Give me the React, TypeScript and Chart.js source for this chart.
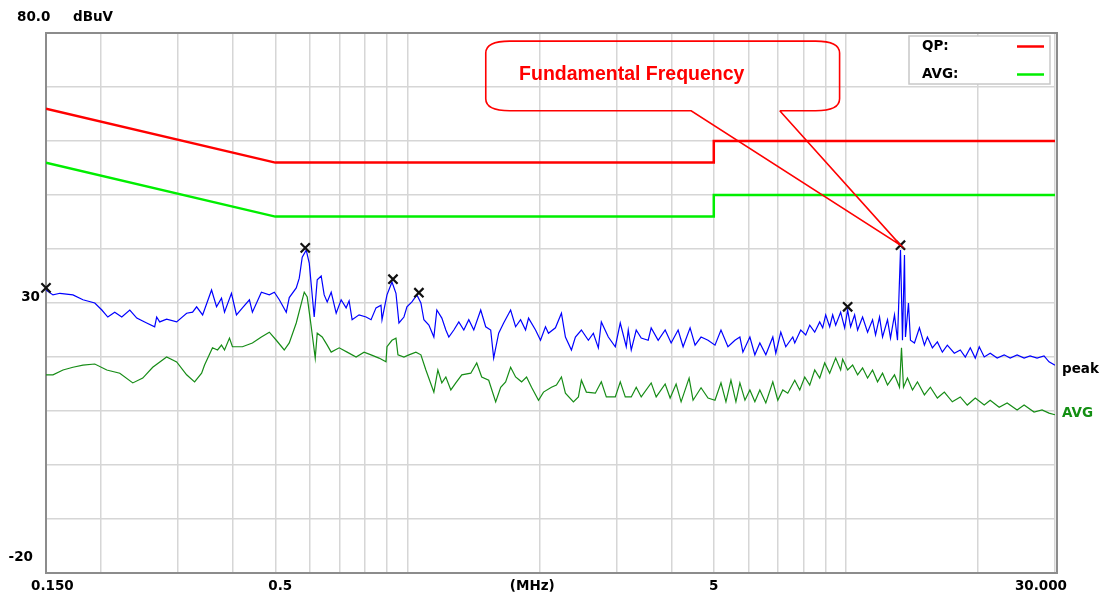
import React, { useEffect, useRef } from "react";
import { Chart, registerables } from "chart.js";

Chart.register(...registerables);

// ---- Data (MHz / dBuV) ----
const peakFreq = [
  0.15, 0.1556, 0.1614, 0.1728, 0.1821, 0.1938, 0.2011, 0.2075, 0.2152, 0.2233,
  0.2329, 0.2416, 0.2545, 0.2654, 0.2682, 0.2725, 0.2826, 0.2979, 0.3139, 0.3239,
  0.3308, 0.3414, 0.3578, 0.3673, 0.377, 0.383, 0.3972, 0.4078, 0.4208, 0.4365,
  0.4434, 0.4648, 0.4846, 0.4975, 0.5107, 0.5297, 0.5381, 0.5582, 0.5671, 0.576,
  0.5882, 0.5976, 0.6134, 0.6232, 0.6363, 0.6464, 0.6567, 0.6706, 0.6884, 0.7066,
  0.7253, 0.7368, 0.7485, 0.7764, 0.8054, 0.8268, 0.8486, 0.8711, 0.8757, 0.8989,
  0.9228, 0.9423, 0.9572, 0.9826, 0.9982, 1.0247, 1.0518, 1.0741, 1.0911, 1.1201,
  1.1498, 1.168, 1.199, 1.2244, 1.2438, 1.2769, 1.3107, 1.3455, 1.3812, 1.4179,
  1.4705, 1.5095, 1.5496, 1.5741, 1.6159, 1.6587, 1.7205, 1.7661, 1.8129, 1.8609,
  1.8904, 1.961, 2.0129, 2.0662, 2.0989, 2.1771, 2.2467, 2.2942, 2.3676, 2.4177,
  2.4949, 2.5879, 2.6565, 2.727, 2.7702, 2.874, 2.9811, 3.06, 3.1578, 3.1911,
  3.2417, 3.3276, 3.4158, 3.5433, 3.5994, 3.7338, 3.8733, 3.9969, 4.146, 4.2561,
  4.4151, 4.532, 4.6766, 4.851, 5.0319, 5.1926, 5.3862, 5.5872, 5.735, 5.826,
  6.0434, 6.2037, 6.3683, 6.5715, 6.8168, 6.9248, 7.1085, 7.2972, 7.5701, 7.6497,
  7.8941, 8.1038, 8.2752, 8.4947, 8.72, 8.8581, 8.9985, 9.1892, 9.3348, 9.4827,
  9.7341, 9.9401, 10.098, 10.258, 10.475, 10.641, 10.922, 11.212, 11.509, 11.692,
  11.939, 12.129, 12.45, 12.647, 12.915, 13.12, 13.328, 13.468, 13.539, 13.61,
  13.681, 13.898, 14.044, 14.342, 14.721, 15.111, 15.351, 15.758, 16.176, 16.605,
  17.045, 17.681, 18.246, 18.73, 19.227, 19.737, 20.154, 20.688, 21.348, 22.145,
  22.971, 23.705, 24.588, 25.506, 26.321, 27.302, 28.32, 29.072, 30,
];
const peakLevel = [
  32.4, 31.5, 31.8, 31.5, 30.6, 30.0, 28.7, 27.4, 28.3, 27.4,
  28.7, 27.2, 26.3, 25.6, 27.4, 26.5, 27.0, 26.5, 28.1, 28.3,
  29.3, 27.8, 32.4, 29.3, 30.9, 28.3, 31.8, 27.8, 29.1, 30.6,
  28.3, 32.0, 31.5, 32.0, 30.6, 28.3, 31.0, 32.8, 34.6, 38.5,
  39.8, 37.4, 27.4, 34.3, 35.0, 31.5, 30.2, 32.0, 28.1, 30.6,
  29.1, 30.4, 26.9, 27.8, 27.4, 26.9, 29.1, 29.6, 26.9, 31.5,
  33.9, 31.8, 26.3, 27.4, 29.3, 30.2, 31.5, 30.0, 26.9, 25.9,
  23.7, 28.7, 27.2, 25.0, 23.7, 25.0, 26.5, 25.0, 26.9, 25.0,
  28.7, 25.6, 25.0, 19.8, 24.4, 26.3, 28.7, 25.6, 26.9, 25.0,
  27.2, 25.0, 23.1, 25.6, 24.4, 25.4, 28.1, 23.7, 21.3, 23.7,
  25.0, 23.1, 24.4, 21.7, 26.5, 23.7, 21.9, 26.3, 21.9, 25.0,
  21.3, 25.0, 23.5, 23.1, 25.4, 23.1, 25.0, 22.6, 25.0, 21.9,
  25.4, 22.2, 23.7, 23.1, 22.2, 25.0, 21.9, 23.1, 23.7, 20.9,
  23.7, 20.4, 22.6, 20.4, 23.7, 20.7, 24.6, 21.9, 23.7, 22.6,
  25.0, 24.1, 25.9, 24.6, 26.5, 25.4, 27.8, 25.6, 27.8, 25.9,
  28.3, 25.4, 28.7, 25.6, 27.8, 25.0, 27.4, 24.6, 26.9, 24.1,
  27.4, 23.7, 26.9, 23.5, 27.8, 23.1, 39.8, 23.1, 31.1, 38.9,
  23.7, 30.0, 23.1, 22.6, 25.4, 22.2, 23.7, 21.7, 22.8, 20.9,
  22.2, 20.7, 21.3, 20.0, 21.7, 19.8, 21.9, 20.0, 20.7, 19.8,
  20.4, 19.8, 20.4, 19.8, 20.2, 19.8, 20.2, 19.1, 18.5,
];

const avgFreq = [
  0.15, 0.1556, 0.164, 0.1728, 0.1821, 0.1938, 0.2064, 0.221, 0.2366, 0.2493,
  0.2627, 0.2826, 0.2979, 0.3139, 0.3273, 0.3396, 0.3449, 0.3596, 0.3692, 0.377,
  0.383, 0.3931, 0.3993, 0.4208, 0.4434, 0.4648, 0.4846, 0.5027, 0.5241, 0.5381,
  0.5582, 0.5821, 0.5913, 0.6039, 0.6167, 0.6232, 0.6397, 0.6567, 0.6706, 0.6993,
  0.7292, 0.7643, 0.797, 0.8268, 0.8621, 0.8942, 0.8989, 0.9228, 0.9423, 0.9522,
  0.9826, 1.0087, 1.0463, 1.0741, 1.1026, 1.1498, 1.1742, 1.199, 1.2244, 1.257,
  1.2903, 1.3315, 1.3958, 1.44, 1.4782, 1.5335, 1.5908, 1.6331, 1.6761, 1.7205,
  1.7661, 1.8224, 1.8708, 1.9203, 1.9919, 2.0447, 2.132, 2.1885, 2.2467, 2.2942,
  2.3925, 2.4563, 2.4949, 2.561, 2.6844, 2.7702, 2.844, 2.9811, 3.06, 3.1415,
  3.2417, 3.3276, 3.4158, 3.5994, 3.695, 3.8733, 3.9759, 4.1028, 4.2117, 4.392,
  4.485, 4.6766, 4.851, 5.0319, 5.1926, 5.33, 5.4714, 5.6165, 5.735, 5.8895,
  6.0434, 6.2037, 6.3683, 6.5715, 6.8168, 6.9978, 7.1837, 7.3739, 7.6497, 7.8525,
  8.0612, 8.2752, 8.4947, 8.72, 8.9514, 9.1892, 9.4827, 9.7341, 9.8367, 10.098,
  10.366, 10.641, 10.922, 11.212, 11.509, 11.815, 12.129, 12.45, 12.915, 13.258,
  13.398, 13.539, 13.825, 14.193, 14.568, 15.111, 15.594, 16.176, 16.779, 17.496,
  18.246, 18.927, 19.737, 20.688, 21.348, 22.377, 23.334, 24.588, 25.506, 26.876,
  28.025, 29.072, 30,
];
const avgLevel = [
  16.7, 16.7, 17.6, 18.1, 18.5, 18.7, 17.6, 17.0, 15.2, 16.1,
  18.1, 20.0, 19.1, 16.7, 15.4, 17.0, 18.5, 21.7, 21.3, 22.2,
  21.3, 23.5, 21.9, 21.9, 22.6, 23.7, 24.6, 23.1, 21.3, 22.6,
  26.3, 32.0, 31.1, 25.6, 19.8, 24.4, 23.7, 22.2, 20.9, 21.7,
  20.9, 20.0, 20.9, 20.4, 19.8, 19.1, 21.9, 23.1, 23.5, 20.4,
  20.0, 20.4, 20.9, 20.4, 17.6, 13.5, 17.6, 15.2, 16.3, 13.9,
  15.2, 16.7, 17.0, 18.9, 16.3, 15.7, 11.7, 14.4, 15.4, 18.1,
  16.3, 15.4, 16.3, 14.4, 12.0, 13.5, 14.4, 14.8, 16.3, 13.3,
  11.7, 12.6, 15.7, 13.5, 13.3, 15.4, 12.6, 12.6, 15.4, 12.6,
  12.6, 14.4, 12.6, 15.2, 12.6, 15.0, 12.4, 15.0, 11.7, 16.1,
  12.0, 14.3, 12.4, 12.0, 15.2, 11.7, 15.7, 11.7, 15.2, 12.0,
  13.9, 11.7, 13.9, 11.5, 15.4, 12.0, 13.9, 13.3, 15.7, 13.9,
  16.3, 14.8, 17.6, 16.1, 18.9, 17.0, 19.8, 17.6, 19.6, 17.6,
  18.5, 16.7, 18.0, 16.1, 17.6, 15.4, 17.0, 14.8, 16.7, 14.4,
  21.7, 14.4, 16.1, 13.9, 15.4, 13.0, 14.4, 12.4, 13.5, 11.7,
  12.6, 11.1, 12.4, 11.1, 12.0, 10.7, 11.5, 10.2, 11.1, 9.8,
  10.2, 9.6, 9.3,
];

const qpLimitFreq = [0.15, 0.5, 5, 5, 30];
const qpLimitLevel = [66, 56, 56, 60, 60];
const avgLimitFreq = [0.15, 0.5, 5, 5, 30];
const avgLimitLevel = [56, 46, 46, 50, 50];

const markerFreq = [0.15, 0.5852, 0.9276, 1.0629, 10.098, 13.328];
const markerLevel = [32.8, 40.2, 34.4, 31.9, 29.3, 40.7];

const gridFreqs = [0.15, 0.2, 0.3, 0.4, 0.5, 0.6, 0.7, 0.8, 0.9, 1, 2, 3, 4, 5, 6, 7, 8, 9, 10, 20, 30];
const yMin = -20;
const yMax = 80;

const calloutText = "Fundamental Frequency";
const calloutBoxFreq = [1.51, 9.68];
const calloutBoxLevel = [78.5, 65.6];
const calloutTailFreq = [4.44, 7.07];
const calloutTextAt = [3.25, 72.3];

const LABEL_FONT = 'bold 13.5px "DejaVu Sans", sans-serif';

const overlayPlugin = {
  id: "overlay",
  beforeDatasetsDraw(chart: any) {
    const { ctx, chartArea: a } = chart;
    ctx.save();
    ctx.strokeStyle = "#8c8c8c";
    ctx.lineWidth = 2;
    ctx.strokeRect(a.left, a.top, a.right - a.left + 2, a.bottom - a.top);
    ctx.restore();
  },
  afterDatasetsDraw(chart: any) {
    const { ctx, chartArea: a, scales } = chart;
    const xs = scales.x;
    const ys = scales.y;
    ctx.save();

    // Legend box
    const lx = a.right - 146;
    const ly = a.top + 3;
    ctx.strokeStyle = "#c8c8c8";
    ctx.lineWidth = 1.5;
    ctx.fillStyle = "#ffffff";
    ctx.fillRect(lx, ly, 141, 48);
    ctx.strokeRect(lx, ly, 141, 48);
    ctx.font = LABEL_FONT;
    ctx.fillStyle = "#000";
    ctx.textBaseline = "middle";
    ctx.textAlign = "left";
    ctx.fillText("QP:", lx + 13, ly + 10);
    ctx.fillText("AVG:", lx + 13, ly + 38);
    ctx.lineWidth = 2.5;
    ctx.strokeStyle = "#ff0000";
    ctx.beginPath();
    ctx.moveTo(lx + 108, ly + 10.5);
    ctx.lineTo(lx + 135, ly + 10.5);
    ctx.stroke();
    ctx.strokeStyle = "#00ee00";
    ctx.beginPath();
    ctx.moveTo(lx + 108, ly + 38.5);
    ctx.lineTo(lx + 135, ly + 38.5);
    ctx.stroke();

    // Callout
    const L = xs.getPixelForValue(calloutBoxFreq[0]);
    const R = xs.getPixelForValue(calloutBoxFreq[1]);
    const T = ys.getPixelForValue(calloutBoxLevel[0]);
    const B = ys.getPixelForValue(calloutBoxLevel[1]);
    const t1 = xs.getPixelForValue(calloutTailFreq[0]);
    const t2 = xs.getPixelForValue(calloutTailFreq[1]);
    const tx = xs.getPixelForValue(markerFreq[5]);
    const ty = ys.getPixelForValue(markerLevel[5]);
    const rx = 24;
    const ry = 12;
    ctx.strokeStyle = "#ff0000";
    ctx.lineWidth = 1.6;
    ctx.beginPath();
    ctx.moveTo(t2, B);
    ctx.lineTo(R - rx, B);
    ctx.quadraticCurveTo(R, B, R, B - ry);
    ctx.lineTo(R, T + ry);
    ctx.quadraticCurveTo(R, T, R - rx, T);
    ctx.lineTo(L + rx, T);
    ctx.quadraticCurveTo(L, T, L, T + ry);
    ctx.lineTo(L, B - ry);
    ctx.quadraticCurveTo(L, B, L + rx, B);
    ctx.lineTo(t1, B);
    ctx.lineTo(tx, ty);
    ctx.lineTo(t2, B);
    ctx.stroke();
    ctx.fillStyle = "#ff0000";
    ctx.font = 'bold 19.5px "Liberation Sans", Arial, sans-serif';
    ctx.textAlign = "center";
    ctx.fillText(calloutText, xs.getPixelForValue(calloutTextAt[0]), ys.getPixelForValue(calloutTextAt[1]));

    // Axis labels
    ctx.font = LABEL_FONT;
    ctx.fillStyle = "#000";
    ctx.textAlign = "left";
    ctx.fillText("80.0", a.left - 29, ys.getPixelForValue(yMax) - 16);
    ctx.fillText("dBuV", a.left + 27, ys.getPixelForValue(yMax) - 16);
    ctx.textAlign = "right";
    ctx.fillText("30", a.left - 6, ys.getPixelForValue(30) - 6);
    ctx.fillText("-20", a.left - 13, ys.getPixelForValue(yMin) - 16);

    const by = a.bottom + 13;
    ctx.textAlign = "left";
    ctx.fillText("0.150", a.left - 15, by);
    ctx.textAlign = "center";
    ctx.fillText("0.5", xs.getPixelForValue(0.5) + 5, by);
    ctx.fillText("(MHz)", xs.getPixelForValue(2) - 7, by);
    ctx.fillText("5", xs.getPixelForValue(5), by);
    ctx.textAlign = "right";
    ctx.fillText("30.000", a.right + 12, by);

    // Trace labels
    ctx.textAlign = "left";
    ctx.fillStyle = "#000";
    ctx.fillText("peak", a.right + 7, ys.getPixelForValue(peakLevel[peakLevel.length - 1]) + 4);
    ctx.fillStyle = "#138f13";
    ctx.fillText("AVG", a.right + 7, ys.getPixelForValue(avgLevel[avgLevel.length - 1]) - 1);

    ctx.restore();
  },
};

function pairs(xs: number[], ys: number[]) {
  return xs.map((x, i) => ({ x, y: ys[i] }));
}

export default function App() {
  const ref = useRef<HTMLCanvasElement | null>(null);
  useEffect(() => {
    if (!ref.current) return;
    const chart = new Chart(ref.current, {
      type: "line",
      data: {
        datasets: [
          {
            label: "markers",
            data: pairs(markerFreq, markerLevel),
            showLine: false,
            pointStyle: "crossRot",
            pointRadius: 6.5,
            pointBorderWidth: 2.2,
            pointBorderColor: "#111",
            borderColor: "#111",
            order: 0,
            clip: false,
          } as any,
          {
            label: "QP",
            data: pairs(qpLimitFreq, qpLimitLevel),
            borderColor: "#ff0000",
            borderWidth: 2.5,
            pointRadius: 0,
            order: 1,
          },
          {
            label: "AVG limit",
            data: pairs(avgLimitFreq, avgLimitLevel),
            borderColor: "#00ee00",
            borderWidth: 2.5,
            pointRadius: 0,
            order: 2,
          },
          {
            label: "peak",
            data: pairs(peakFreq, peakLevel),
            borderColor: "#0000ff",
            borderWidth: 1.2,
            pointRadius: 0,
            order: 3,
          },
          {
            label: "AVG",
            data: pairs(avgFreq, avgLevel),
            borderColor: "#168c16",
            borderWidth: 1.2,
            pointRadius: 0,
            order: 4,
          },
        ],
      },
      options: {
        animation: false,
        responsive: false,
        maintainAspectRatio: false,
        layout: { padding: { left: 46, top: 33, right: 47, bottom: 23 } },
        plugins: { legend: { display: false }, tooltip: { enabled: false } },
        scales: {
          x: {
            type: "logarithmic",
            min: 0.15,
            max: 30,
            afterBuildTicks: (s: any) => {
              s.ticks = gridFreqs.map((v) => ({ value: v }));
            },
            ticks: { display: false },
            grid: { color: "#d6d6d6", lineWidth: 1.5, drawTicks: false },
            border: { display: false },
          },
          y: {
            min: yMin,
            max: yMax,
            ticks: { display: false, stepSize: 10 },
            grid: { color: "#d6d6d6", lineWidth: 1.5, drawTicks: false },
            border: { display: false },
          },
        },
      } as any,
      plugins: [overlayPlugin],
    });
    return () => chart.destroy();
  }, []);
  return (
    <div style={{ position: "absolute", left: 0, top: 0, width: 1102, height: 596, background: "#fff" }}>
      <canvas ref={ref} width={1102} height={596} style={{ display: "block" }} />
    </div>
  );
}
